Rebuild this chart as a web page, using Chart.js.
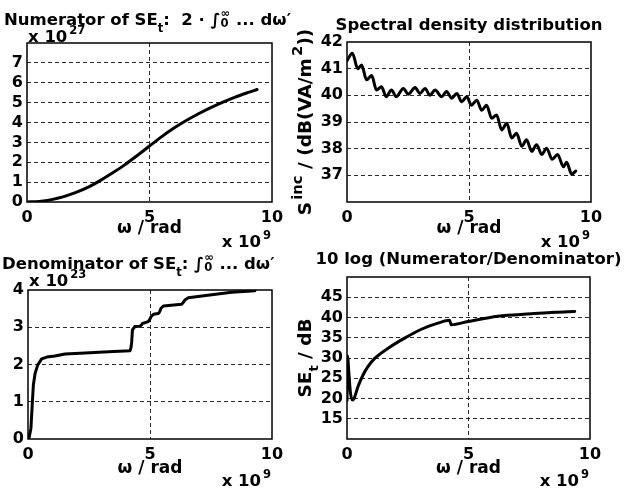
<!DOCTYPE html>
<html><head><meta charset="utf-8">
<script src="https://cdn.jsdelivr.net/npm/chart.js@4/dist/chart.umd.min.js"></script>
<style>
html,body{margin:0;padding:0;background:#fff}
#wrap{position:relative;width:630px;height:488px;overflow:hidden;background:#fff}
#wrap canvas{position:absolute;left:0;top:0}
</style></head><body>
<div id="wrap">
<canvas id="c1" width="630" height="488"></canvas>
<canvas id="c2" width="630" height="488"></canvas>
<canvas id="c3" width="630" height="488"></canvas>
<canvas id="c4" width="630" height="488"></canvas>
</div>
<script>
// ---------- data (omega in units of 1e9 rad) ----------
const xTicks = [0, 5, 10];

const numOmega = [0, 0.5, 1.0, 1.5, 2.0, 2.5, 3.0, 3.5, 4.0, 4.5, 5.0, 5.5, 6.0, 6.5, 7.0, 7.5, 8.0, 8.5, 9.0, 9.39];
const numValue = [0, 0.03, 0.12, 0.27, 0.48, 0.75, 1.09, 1.47, 1.88, 2.34, 2.82, 3.29, 3.72, 4.1, 4.44, 4.75, 5.03, 5.28, 5.5, 5.66];
const numYTicks = [0, 1, 2, 3, 4, 5, 6, 7];

const specOmega = [0, 0.22, 0.44, 0.60, 0.80, 1.01, 1.21, 1.41, 1.61, 1.82, 2.02, 2.31, 2.51, 2.79, 2.99, 3.20, 3.40, 3.61, 3.88, 4.08, 4.29, 4.50, 4.70, 4.91, 5.10, 5.32, 5.52, 5.72, 5.93, 6.13, 6.34, 6.55, 6.75, 6.95, 7.16, 7.36, 7.57, 7.77, 7.98, 8.18, 8.41, 8.63, 8.87, 9.00, 9.21, 9.37];
const specValue = [41.3, 41.58, 41.0, 41.14, 40.58, 40.74, 40.2, 40.32, 39.95, 40.2, 39.95, 40.26, 40.04, 40.29, 40.07, 40.26, 40.0, 40.2, 39.95, 40.14, 39.89, 40.07, 39.76, 39.95, 39.63, 39.82, 39.44, 39.63, 39.14, 39.26, 38.7, 38.95, 38.4, 38.58, 38.09, 38.33, 37.9, 38.15, 37.78, 38.02, 37.6, 37.78, 37.32, 37.49, 37.04, 37.16];
const specYTicks = [37, 38, 39, 40, 41, 42];

const denOmega = [0, 0.05, 0.12, 0.18, 0.22, 0.29, 0.40, 0.56, 0.77, 1.1, 1.52, 2.34, 3.3, 4.18, 4.22, 4.25, 4.28, 4.38, 4.59, 4.65, 4.69, 4.93, 4.98, 5.04, 5.14, 5.34, 5.40, 5.45, 5.55, 6.3, 6.37, 6.43, 6.57, 7.53, 8.35, 9.3];
const denValue = [0, 0.05, 0.29, 1.0, 1.45, 1.76, 1.99, 2.15, 2.2, 2.23, 2.28, 2.31, 2.34, 2.37, 2.45, 2.6, 2.93, 3.02, 3.03, 3.06, 3.1, 3.15, 3.2, 3.28, 3.35, 3.37, 3.42, 3.51, 3.57, 3.62, 3.67, 3.73, 3.79, 3.87, 3.94, 3.98];
const denYTicks = [0, 1, 2, 3, 4];

const ratioOmega = [0, 0.02, 0.08, 0.14, 0.22, 0.29, 0.45, 0.66, 0.86, 1.14, 1.69, 2.37, 3.06, 3.74, 4.22, 4.29, 4.98, 6.21, 7.59, 8.55, 9.37];
const ratioValue = [19.5, 30.5, 26.0, 21.5, 19.6, 20.0, 22.9, 25.8, 27.85, 29.9, 32.4, 34.9, 37.1, 38.6, 39.3, 38.2, 39.0, 40.3, 40.9, 41.3, 41.5];
const ratioYTicks = [15, 20, 25, 30, 35, 40, 45];

// ---------- helpers ----------
const FONT = '"DejaVu Sans", "Liberation Sans", sans-serif';
const TICK_SIZE = 16, XLABEL_SIZE = 17, EXP_SIZE = 16.5, YLABEL_SIZE = 18.5, TITLE_SIZE = 16.5;
const YW = 30, XH = 30;
const decorItems = {};

function drawRich(ctx, parts, x, y, size, align, rot) {
  ctx.save();
  ctx.translate(x, y);
  if (rot) ctx.rotate(rot);
  ctx.fillStyle = '#000';
  ctx.textBaseline = 'alphabetic';
  ctx.textAlign = 'left';
  const fontOf = p => 'bold ' + (size * (p.s || 1)).toFixed(2) + 'px ' + FONT;
  let total = 0, held = 0;
  const ws = parts.map(p => { ctx.font = fontOf(p); return ctx.measureText(p.t).width + (p.gap || 0) * size; });
  parts.forEach((p, i) => {
    if (p.hold) { held = ws[i]; }
    else { total += Math.max(ws[i], held); held = 0; }
  });
  let cx = align === 'center' ? -total / 2 : (align === 'right' ? -total : 0);
  held = 0;
  parts.forEach((p, i) => {
    ctx.font = fontOf(p);
    ctx.fillText(p.t, cx + (p.gap || 0) * size, (p.dy || 0) * size);
    if (p.hold) { held = ws[i]; }
    else { cx += Math.max(ws[i], held); held = 0; }
  });
  ctx.restore();
}

const sup = (t, s) => ({t, s: s || 0.7, dy: -0.5, gap: 0.12});
const sub = t => ({t, s: 0.7, dy: 0.4});

const decor = {
  id: 'decor',
  afterDraw(chart) {
    const ctx = chart.ctx, a = chart.chartArea;
    ctx.save();
    ctx.strokeStyle = '#000';
    ctx.lineWidth = 1.5;
    ctx.strokeRect(a.left, a.top, a.right - a.left, a.bottom - a.top);
    ctx.restore();
    const fn = decorItems[chart.canvas.id];
    if (fn) fn(a).forEach(it => drawRich(ctx, it.parts, it.x, it.y, it.size, it.align, it.rot));
  }
};

function gridColor(c) {
  const s = c.scale;
  if (c.tick && (Math.abs(c.tick.value - s.min) < 1e-9 || Math.abs(c.tick.value - s.max) < 1e-9)) return 'rgba(0,0,0,0)';
  return '#2a2a2a';
}

function axis(min, max, ticks, fitFn, pad) {
  return {
    type: 'linear', min, max,
    afterBuildTicks: s => { s.ticks = ticks.map(v => ({value: v})); },
    afterFit: fitFn,
    grid: {color: gridColor, lineWidth: 1, drawTicks: false},
    border: {display: false, dash: [4, 3]},
    ticks: {color: '#000', padding: pad, autoSkip: false, maxRotation: 0,
            font: {family: FONT, size: TICK_SIZE, weight: 'bold'}}
  };
}

function makeChart(id, area, omega, values, yMin, yMax, yTicks, mode, items) {
  decorItems[id] = items;
  new Chart(document.getElementById(id), {
    type: 'line',
    data: {datasets: [{
      data: omega.map((w, i) => ({x: w, y: values[i]})),
      borderColor: '#000', borderWidth: 3, pointRadius: 0, fill: false,
      tension: mode === 'linear' ? 0 : 0.4,
      cubicInterpolationMode: mode === 'linear' ? 'default' : 'monotone',
      borderJoinStyle: 'round', borderCapStyle: 'round'
    }]},
    options: {
      responsive: false, animation: false, devicePixelRatio: 1,
      events: [],
      layout: {padding: {left: area.l - YW, top: area.t, right: 630 - area.r, bottom: 488 - area.b - XH}},
      plugins: {legend: {display: false}, tooltip: {enabled: false}},
      scales: {
        x: axis(0, 10, xTicks, s => { s.height = XH; }, 6),
        y: axis(yMin, yMax, yTicks, s => { s.width = YW; }, 4)
      }
    },
    plugins: [decor]
  });
}

function commonX(a, lblOff, expOff) {
  return [
    {parts: [{t: 'ω / rad'}], x: (a.left + a.right) / 2, y: a.bottom + lblOff, size: XLABEL_SIZE, align: 'center'},
    {parts: [{t: 'x 10'}, sup('9')], x: a.right - 1, y: a.bottom + expOff, size: EXP_SIZE, align: 'right'}
  ];
}

// Top-left: numerator
makeChart('c1', {l: 27, t: 43, r: 272, b: 202}, numOmega, numValue, 0, 8, numYTicks, 'mono', a => [
  {parts: [{t: 'Numerator of SE'}, sub('t'), {t: ':  2 · ∫'}, {t: '∞', s: 0.7, dy: -0.5, hold: true}, {t: '0', s: 0.7, dy: 0.1}, {t: ' ... dω′'}],
   x: (a.left + a.right) / 2 - 2, y: 25, size: TITLE_SIZE, align: 'center'},
  {parts: [{t: 'x 10'}, sup('27')], x: a.left + 1, y: a.top - 1, size: EXP_SIZE, align: 'left'},
  ...commonX(a, 31, 45)
]);

// Top-right: spectral density
makeChart('c2', {l: 347, t: 42, r: 591, b: 202}, specOmega, specValue, 36, 42, specYTicks, 'mono', a => [
  {parts: [{t: 'Spectral density distribution'}], x: (a.left + a.right) / 2, y: 30, size: TITLE_SIZE, align: 'center'},
  {parts: [{t: 'S'}, sup('inc', 0.8), {t: ' / (dB(VA/m'}, sup('2', 0.8), {t: '))'}], x: a.left - 36, y: (a.top + a.bottom) / 2, size: YLABEL_SIZE, align: 'center', rot: -Math.PI / 2},
  ...commonX(a, 31, 45)
]);

// Bottom-left: denominator
makeChart('c3', {l: 28, t: 290, r: 272, b: 439}, denOmega, denValue, 0, 4, denYTicks, 'linear', a => [
  {parts: [{t: 'Denominator of SE'}, sub('t'), {t: ': ∫'}, {t: '∞', s: 0.7, dy: -0.5, hold: true}, {t: '0', s: 0.7, dy: 0.1}, {t: ' ... dω′'}],
   x: 2, y: 269, size: TITLE_SIZE, align: 'left'},
  {parts: [{t: 'x 10'}, sup('23')], x: a.left + 1, y: a.top - 4, size: EXP_SIZE, align: 'left'},
  ...commonX(a, 34, 47)
]);

// Bottom-right: ratio in dB
makeChart('c4', {l: 347, t: 277, r: 590, b: 439}, ratioOmega, ratioValue, 10, 50, ratioYTicks, 'mono', a => [
  {parts: [{t: '10 log (Numerator/Denominator)'}], x: (a.left + a.right) / 2, y: 264, size: TITLE_SIZE, align: 'center'},
  {parts: [{t: 'SE'}, sub('t'), {t: ' / dB'}], x: a.left - 36, y: (a.top + a.bottom) / 2, size: YLABEL_SIZE, align: 'center', rot: -Math.PI / 2},
  ...commonX(a, 34, 47)
]);
</script>
</body></html>
